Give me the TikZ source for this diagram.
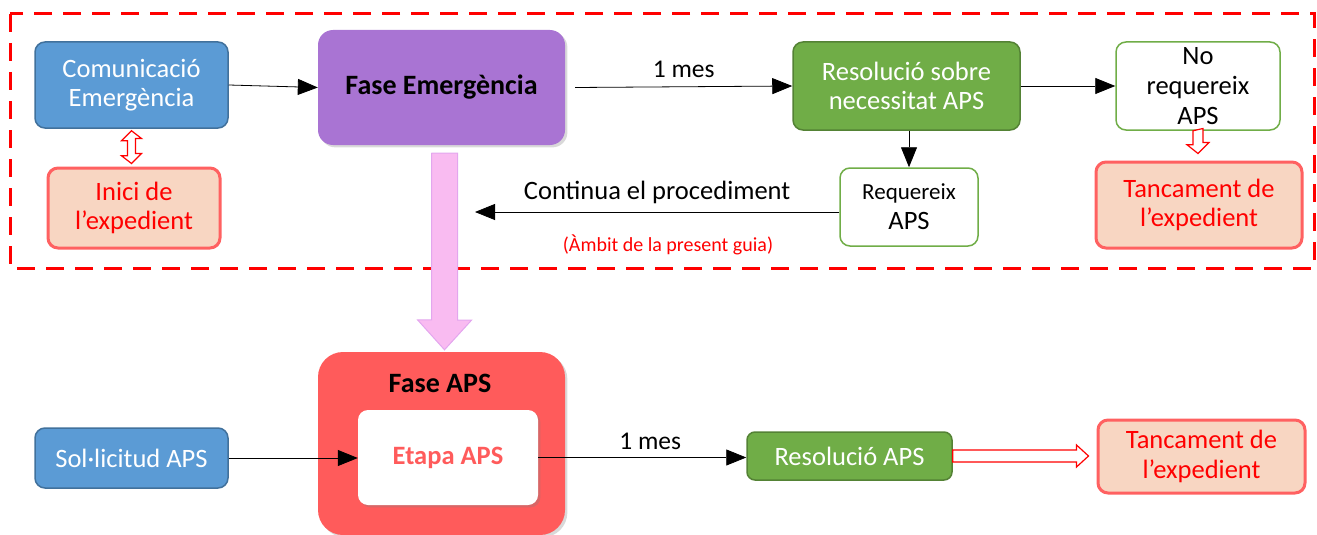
\documentclass[tikz,border=0pt]{standalone}
\usepackage{fontspec}
\setmainfont{Carlito}
\usetikzlibrary{arrows.meta,shadows,calc}

\definecolor{bluebox}{HTML}{5B9BD5}
\definecolor{blueedge}{HTML}{41719C}
\definecolor{greenbox}{HTML}{70AD47}
\definecolor{greenedge}{HTML}{548235}
\definecolor{purplebox}{HTML}{A974D3}
\definecolor{peach}{HTML}{F8D6C2}
\definecolor{rededge}{HTML}{FF6161}
\definecolor{apsred}{HTML}{FF5B5B}
\definecolor{pinkfill}{HTML}{F9BBF1}
\definecolor{pinkedge}{HTML}{E3A6EE}

\tikzset{
	box/.style={rectangle,rounded corners=10pt,align=center,inner sep=2pt,font=\fontsize{26.5}{29.5}\selectfont},
	bluestep/.style={box,fill=bluebox,draw=blueedge,line width=1.5pt,text=white},
	greenstep/.style={box,fill=greenbox,draw=greenedge,line width=1.5pt,text=white},
	choice/.style={box,fill=white,draw=greenbox,line width=1.5pt,text=black},
	closing/.style={box,fill=peach,draw=rededge,line width=3pt,text=red},
	flow/.style={line width=0.8pt,-{Triangle[length=20pt,width=16pt]}},
	hollow/.style={draw=red,fill=white,line width=1.2pt,line join=miter},
}

\begin{document}
\begin{tikzpicture}[x=1pt,y=-1pt]
	\useasboundingbox (0,0) rectangle (1317,535);

	% emergency phase frame
	\draw[red,line width=3pt,dash pattern=on 18pt off 11pt] (10,14) rectangle (1314,268);

	% top row
	\node[bluestep,minimum width=193pt,minimum height=86pt] (com) at (131.5,85) {Comunicació\\Emergència};
	\node[closing,minimum width=172pt,minimum height=80pt] (inici) at (134,208) {Inici de\\l’expedient};
	\node[box,rounded corners=15pt,fill=purplebox,drop shadow={opacity=0.3},minimum width=247pt,minimum height=115pt,font=\fontsize{28}{32}\selectfont\bfseries] (fem) at (441.5,87.5) {Fase Emergència};
	\node[greenstep,minimum width=227pt,minimum height=88pt] (resnec) at (906.5,86) {Resolució sobre\\necessitat APS};
	\node[choice,minimum width=164pt,minimum height=88pt,font=\fontsize{26.5}{30}\selectfont] (noreq) at (1198,86) {No\\requereix\\APS};
	\node[choice,minimum width=138pt,minimum height=78pt,font=\fontsize{23}{30}\selectfont] (req) at (909,207) {Requereix\\{\fontsize{26.5}{30}\selectfont APS}};
	\node[closing,minimum width=206pt,minimum height=86pt] (tanc1) at (1199,205) {Tancament de\\l’expedient};

	% bottom row
	\node[box,rounded corners=25pt,fill=apsred,drop shadow={opacity=0.3},minimum width=247pt,minimum height=183pt] (faps) at (441.5,443.5) {};
	\node[font=\fontsize{28}{32}\selectfont\bfseries] (fapslabel) at (440,383) {Fase APS};
	\node[box,fill=white,drop shadow={opacity=0.3},minimum width=180pt,minimum height=95pt,text=apsred,font=\fontsize{26.5}{30}\selectfont\bfseries] (etapa) at (448,457.5) {Etapa APS};
	\node[bluestep,minimum width=193pt,minimum height=60pt] (sol) at (131.5,458) {Sol·licitud APS};
	\node[greenstep,rounded corners=8pt,minimum width=205pt,minimum height=48pt] (resaps) at (849.5,456) {Resolució APS};
	\node[closing,minimum width=207pt,minimum height=73pt] (tanc2) at (1201.5,456.5) {Tancament de\\l’expedient};

	% connectors
	\draw[flow] (com.east) -- (fem.west);
	\draw[flow] ($(fem.east)+(10,0)$) -- node[above=5pt,font=\fontsize{25.5}{28}\selectfont] (mes1) {1 mes} (resnec.west);
	\draw[flow] (resnec.east) -- (noreq.west);
	\draw[flow] (resnec.south -| req.north) -- (req.north);
	\coordinate (contend) at (475,212);
	\draw[flow] (req.west |- contend) -- node[above=4pt,font=\fontsize{26.5}{29}\selectfont] (cont) {Continua el procediment} (contend);
	\node[text=red,font=\fontsize{20}{22}\selectfont] (ambit) at (668,245) {(Àmbit de la present guia)};
	\draw[flow] (sol.east) -- (sol.east -| etapa.west);
	\draw[flow] (etapa.east) -- node[above=4pt,xshift=8pt,font=\fontsize{25.5}{28}\selectfont] (mes2) {1 mes} (etapa.east -| resaps.west);

	% hollow arrows
	\draw[hollow] ($(com.south)+(0,2)$) -- ++(-10,10) -- ++(6,0) -- ++(0,15) -- ++(-6,0) -- ($(com.south |- inici.north)+(0,-3)$) -- ++(10,-10) -- ++(-6,0) -- ++(0,-15) -- ++(6,0) -- cycle;
	\draw[hollow] ($(noreq.south)+(-5,0)$) -- ++(0,14) -- ++(-6,0) -- ($(noreq.south |- tanc1.north)+(0,-7)$) -- ++(11,-11) -- ++(-6,0) -- ++(0,-14) -- cycle;
	\draw[hollow] ($(resaps.east)+(0,-6)$) -- ($(resaps.east -| tanc2.west)+(-20,-6)$) -- ++(0,-5) -- ($(resaps.east -| tanc2.west)+(-8,0)$) -- ++(-12,11) -- ++(0,-5) -- ($(resaps.east)+(0,6)$) -- cycle;

	% phase transition arrow
	\draw[fill=pinkfill,draw=pinkedge,line width=1pt] ($(fem.south)+(-10,8)$) -- ++(26,0) -- ++(0,167) -- ++(14,0) -- ($(faps.north)+(3,-2)$) -- ++(-27,-30) -- ++(14,0) -- ++(0,-167) -- cycle;
\end{tikzpicture}
\end{document}
